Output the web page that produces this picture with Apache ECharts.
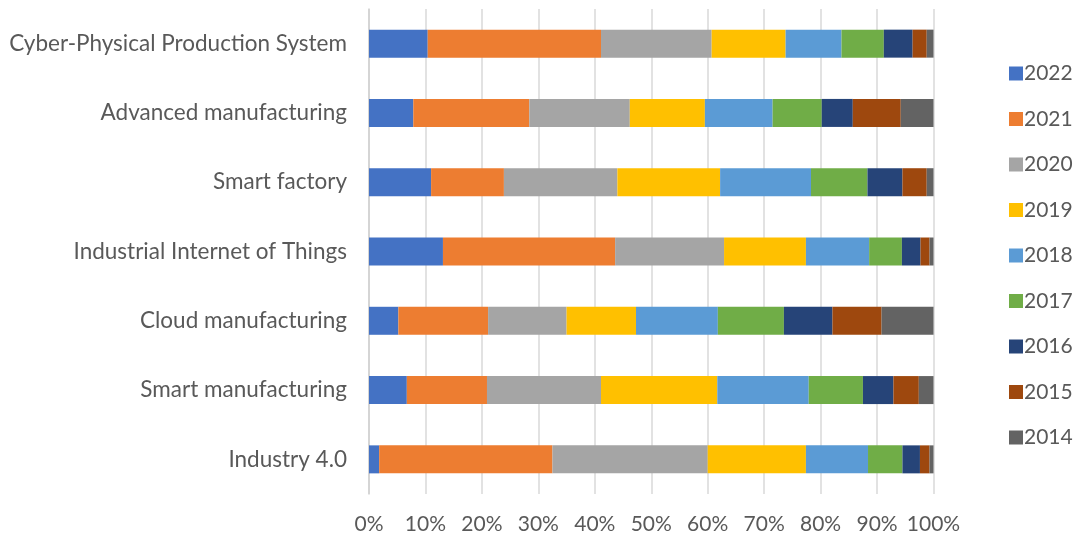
<!DOCTYPE html>
<html>
<head>
<meta charset="utf-8">
<script src="https://cdn.jsdelivr.net/npm/echarts@6/dist/echarts.min.js"></script>
<style>
  html, body { margin: 0; padding: 0; background: #ffffff; }
  #chart { width: 1077px; height: 538px; }
</style>
</head>
<body>
<div id="chart"></div>
<script>
// Concepts, listed bottom to top
const categories = [
  'Industry 4.0',
  'Smart manufacturing',
  'Cloud manufacturing',
  'Industrial Internet of Things',
  'Smart factory',
  'Advanced manufacturing',
  'Cyber-Physical Production System'
];

// Share of publications per year (%), same order as categories
const y2022 = [1.8, 6.7, 5.2, 13.1, 11.0, 7.85, 10.4];
const y2021 = [30.7, 14.2, 15.9, 30.5, 12.9, 20.55, 30.7];
const y2020 = [27.5, 20.2, 13.9, 19.3, 20.1, 17.8, 19.6];
const y2019 = [17.4, 20.6, 12.3, 14.5, 18.2, 13.3, 13.1];
const y2018 = [11.0, 16.2, 14.5, 11.2, 16.1, 12.0, 9.9];
const y2017 = [6.1, 9.6, 11.7, 5.8, 10.0, 8.7, 7.5];
const y2016 = [3.1, 5.4, 8.6, 3.3, 6.2, 5.5, 5.1];
const y2015 = [1.7, 4.5, 8.7, 1.6, 4.3, 8.5, 2.5];
const y2014 = [0.7, 2.6, 9.2, 0.7, 1.2, 5.8, 1.2];

const years = ['2022', '2021', '2020', '2019', '2018', '2017', '2016', '2015', '2014'];
const yearValues = [y2022, y2021, y2020, y2019, y2018, y2017, y2016, y2015, y2014];
const colors = ['#4472C4', '#ED7D31', '#A5A5A5', '#FFC000', '#5B9BD5', '#70AD47', '#264478', '#9E480E', '#636363'];

const font = 'Lato, "Open Sans", sans-serif';
const textColor = '#595959';

const chart = echarts.init(document.getElementById('chart'), null, { renderer: 'canvas' });

chart.setOption({
  animation: false,
  color: colors,
  grid: { left: 369, right: 143.5, top: 9, bottom: 44, containLabel: false },
  legend: {
    orient: 'vertical',
    left: 1004,
    top: 58,
    itemWidth: 14,
    itemHeight: 14,
    itemGap: 24.5,
    icon: 'rect',
    textStyle: { fontFamily: font, fontSize: 21, color: textColor, padding: [0, 0, 0, -4] },
    data: years
  },
  xAxis: {
    type: 'value',
    min: 0,
    max: 100,
    interval: 10,
    axisLine: { show: false },
    axisTick: { show: false },
    splitLine: { lineStyle: { color: '#d9d9d9', width: 1.5 } },
    axisLabel: {
      formatter: '{value}%',
      fontFamily: font,
      fontSize: 21,
      color: textColor,
      margin: 20
    }
  },
  yAxis: {
    type: 'category',
    data: categories,
    axisLine: { show: true, lineStyle: { color: '#d0d0d0', width: 1.5 } },
    axisTick: { show: false },
    axisLabel: {
      fontFamily: font,
      fontSize: 22.5,
      color: textColor,
      margin: 22
    }
  },
  series: years.map((yr, i) => ({
    name: yr,
    type: 'bar',
    stack: 'total',
    barWidth: 28,
    data: yearValues[i]
  }))
});
</script>
</body>
</html>
